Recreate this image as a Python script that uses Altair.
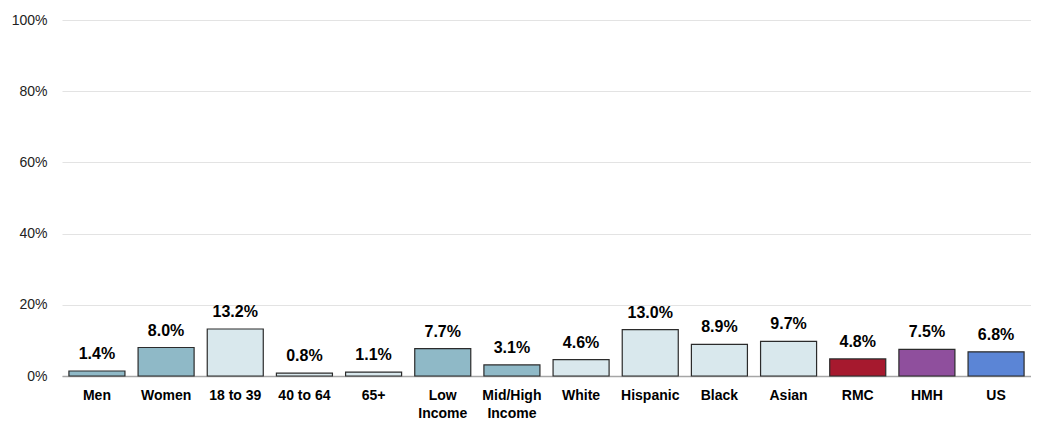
import altair as alt
import pandas as pd

categories = ["Men", "Women", "18 to 39", "40 to 64", "65+", "Low Income",
              "Mid/High Income", "White", "Hispanic", "Black", "Asian",
              "RMC", "HMH", "US"]
values = [1.4, 8.0, 13.2, 0.8, 1.1, 7.7, 3.1, 4.6, 13.0, 8.9, 9.7, 4.8, 7.5, 6.8]
colors = ["#8fb9c7", "#8fb9c7", "#d9e8ed", "#d9e8ed", "#d9e8ed", "#8fb9c7",
          "#8fb9c7", "#d9e8ed", "#d9e8ed", "#d9e8ed", "#d9e8ed",
          "#a6192e", "#8f4f9d", "#5b85d6"]

df = pd.DataFrame({"cat": categories, "val": values, "color": colors})
df["label"] = df["val"].map(lambda v: f"{v:.1f}%")

FONT = "Liberation Sans"

x = alt.X("cat:N", sort=categories, title=None,
          scale=alt.Scale(paddingInner=0.19, paddingOuter=0.1),
          axis=alt.Axis(labelAngle=0, labelFont=FONT, labelFontSize=14,
                        labelFontWeight="bold", labelColor="#000000", labelPadding=12,
                        labelLineHeight=18, ticks=False, domainColor="#a6a6a6",
                        domainWidth=1.5, labelBaseline="top",
                        labelExpr="indexof(datum.label, ' Income') > 0 ? [replace(datum.label, ' Income', ''), 'Income'] : datum.label"))
y = alt.Y("val:Q", title=None,
          scale=alt.Scale(domain=[0, 100]),
          axis=alt.Axis(values=[0, 20, 40, 60, 80, 100], labelExpr="datum.value + '%'",
                        labelFont=FONT, labelFontSize=14, labelColor="#222222",
                        labelPadding=15, ticks=False, domain=False,
                        gridColor="#e3e3e3", gridWidth=1))

base = alt.Chart(df)
bars = base.mark_bar(stroke="#2b2b2b", strokeWidth=1.2).encode(
    x=x, y=y, color=alt.Color("color:N", scale=None))
text = base.mark_text(dy=-9, baseline="bottom", font=FONT, fontSize=16,
                      fontWeight="bold", color="#000000").encode(
    x=alt.X("cat:N", sort=categories), y="val:Q", text="label:N")

chart = (bars + text).properties(
    width=969, height=356,
    autosize=alt.AutoSizeParams(type="none"),
    padding={"left": 54, "top": 12, "right": 0, "bottom": 45},
).configure_view(stroke=None)

chart.save("out.html", embed_options={"renderer": "svg", "actions": False})
